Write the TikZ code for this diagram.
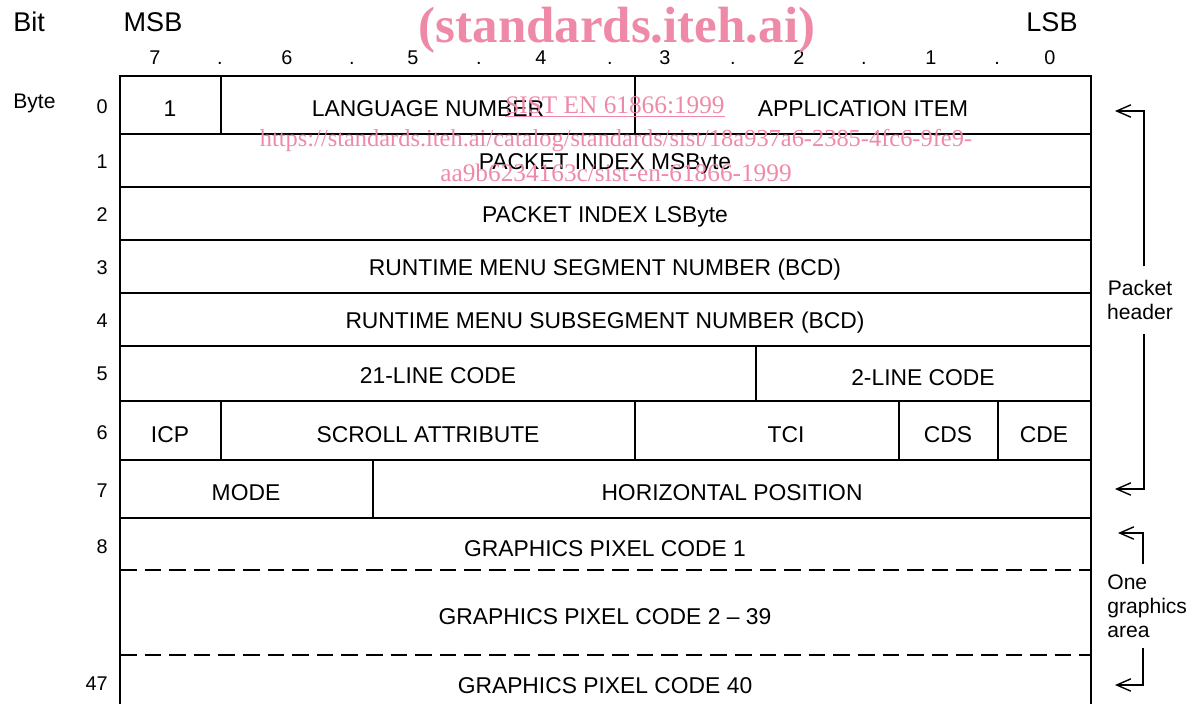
\documentclass[tikz,border=0pt]{standalone}
\usepackage{fontspec}
\setmainfont{Liberation Sans}
\newfontfamily\wmfont{Liberation Serif}
\usepackage{tikz}
\usetikzlibrary{arrows.meta}
\definecolor{wmpink}{RGB}{238,138,168}
\tikzstyle{field} = [inner sep=0pt, yshift=-1pt, font=\fontsize{13}{15}\selectfont]
\tikzstyle{bitnum} = [inner sep=0pt, anchor=base, font=\fontsize{11.3}{13}\selectfont]
\tikzstyle{bytenum} = [inner sep=0pt, anchor=east, font=\fontsize{11.3}{13}\selectfont]
\tikzstyle{head} = [inner sep=0pt, font=\fontsize{15.4}{18}\selectfont]
\tikzstyle{side} = [inner sep=0pt, font=\fontsize{12}{13.6}\selectfont]
\tikzstyle{wm} = [inner sep=0pt, text=wmpink, font=\wmfont\fontsize{14.4}{16}\selectfont]

\begin{document}
\begin{tikzpicture}[
    x=0.02cm, y=-0.02cm,
    grid/.style={line width=1.1pt},
    gap/.style={line width=1.1pt, dash pattern=on 9.5pt off 4.5pt},
    brace/.style={line width=0.8pt, -{Straight Barb[length=8pt,width=7pt]}}
]
\useasboundingbox (0,0) rectangle (1194,704);

% Labels above and left
\node[head, anchor=west] (bit) at (13,22) {Bit};
\node[head] (msb) at (153,22) {MSB};
\node[head] (lsb) at (1052,22) {LSB};
\node[side, anchor=west, font=\fontsize{12}{14}\selectfont] (byte) at (13,103) {Byte};

\foreach \b/\x in {7/155, 6/287, 5/413, 4/541, 3/665, 2/799, 1/931, 0/1050}
    \node[bitnum] (bit\b) at (\x,64) {\b};
\foreach \x [count=\i] in {220, 352, 479, 610, 733, 864, 997}
    \node[bitnum] (dot\i) at (\x,64) {.};

\foreach \n/\y in {0/107, 1/162, 2/215, 3/268, 4/321, 5/374, 6/433, 7/491, 8/547, 47/684}
    \node[bytenum] (byte\n) at (108,\y) {\n};

% Table
\draw[grid] (120,704) -- (120,76) -- (1091,76) -- (1091,704);
\foreach \y in {134, 187, 240, 293, 346, 401, 460, 518}
    \draw[grid] (120,\y) -- (1091,\y);
\draw[gap] (120,570) -- (1091,570);
\draw[gap] (120,655) -- (1091,655);
\draw[grid] (221,76) -- (221,134);
\draw[grid] (635,76) -- (635,134);
\draw[grid] (756,346) -- (756,401);
\foreach \x in {221, 635, 899, 998}
    \draw[grid] (\x,401) -- (\x,460);
\draw[grid] (373,460) -- (373,518);

% Fields
\node[field] (flag) at (170,107) {1};
\node[field] (lang) at (428,107) {LANGUAGE NUMBER};
\node[field] (appl) at (863,107) {APPLICATION ITEM};
\node[field] (pimsb) at (605,162) {PACKET INDEX MSByte};
\node[field] (pilsb) at (605,215) {PACKET INDEX LSByte};
\node[field] (seg) at (605,268) {RUNTIME MENU SEGMENT NUMBER (BCD)};
\node[field] (subseg) at (605,321) {RUNTIME MENU SUBSEGMENT NUMBER (BCD)};
\node[field] (code21) at (438,374) {21-LINE CODE};
\node[field] (code2) at (923,376) {2-LINE CODE};
\node[field] (icp) at (170,433) {ICP};
\node[field] (scroll) at (428,433) {SCROLL ATTRIBUTE};
\node[field] (tci) at (786,433) {TCI};
\node[field] (cds) at (948,433) {CDS};
\node[field] (cde) at (1044,433) {CDE};
\node[field] (mode) at (246,491) {MODE};
\node[field] (hpos) at (732,491) {HORIZONTAL POSITION};
\node[field] (gpc1) at (605,547) {GRAPHICS PIXEL CODE 1};
\node[field] (gpcmid) at (605,615) {GRAPHICS PIXEL CODE 2 -- 39};
\node[field] (gpc40) at (605,684) {GRAPHICS PIXEL CODE 40};

% Brackets on the right
\node[side, align=center, outer sep=8pt] (phead) at (1140,300) {Packet\\header};
\coordinate (phtop) at (1144,111);
\coordinate (phtoptip) at (1115,111);
\coordinate (phbot) at (1144,489);
\coordinate (phbottip) at (1115,489);
\draw[brace] (phead.north -| phtop) -- (phtop) -- (phtoptip);
\draw[brace] (phead.south -| phbot) -- (phbot) -- (phbottip);

\node[side, align=left, anchor=west, outer ysep=6pt] (garea) at (1107,606) {One\\graphics\\area};
\coordinate (gatop) at (1143,533);
\coordinate (gatoptip) at (1118,533);
\coordinate (gabot) at (1143,685);
\coordinate (gabottip) at (1115,685);
\draw[brace] (garea.north -| gatop) -- (gatop) -- (gatoptip);
\draw[brace] (garea.south -| gabot) -- (gabot) -- (gabottip);

% Watermark
\node[wm, font=\wmfont\bfseries\fontsize{29}{32}\selectfont] (wmsite) at (617,30) {(standards.iteh.ai)};
\node[wm] (wmdoc) at (615,107) {\underline{SIST EN 61866:1999}};
\node[wm, font=\wmfont\fontsize{13.9}{16}\selectfont] (wmurl) at (616,141) {https://standards.iteh.ai/catalog/standards/sist/18a937a6-2385-4fc6-9fe9-};
\node[wm] (wmurl2) at (616,173) {aa9b6234163c/sist-en-61866-1999};

\end{tikzpicture}
\end{document}
